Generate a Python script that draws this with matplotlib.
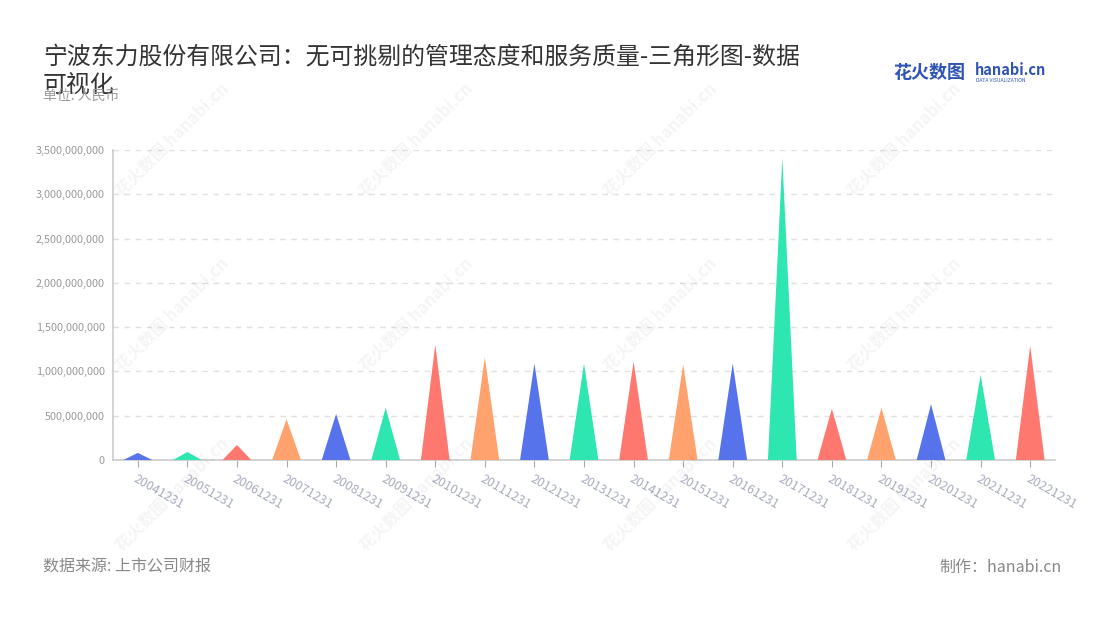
import matplotlib
matplotlib.use("Agg")
import matplotlib.pyplot as plt
from matplotlib.ticker import FuncFormatter

plt.rcParams['font.family'] = ['Noto Sans CJK SC', 'DejaVu Sans']

# --- Data ---
dates = ["20041231", "20051231", "20061231", "20071231", "20081231",
         "20091231", "20101231", "20111231", "20121231", "20131231",
         "20141231", "20151231", "20161231", "20171231", "20181231",
         "20191231", "20201231", "20211231", "20221231"]
values = [80e6, 90e6, 170e6, 460e6, 520e6,
          590e6, 1300e6, 1160e6, 1090e6, 1090e6,
          1110e6, 1080e6, 1090e6, 3410e6, 580e6,
          590e6, 630e6, 960e6, 1290e6]
palette = ['#5773ec', '#2ee6b0', '#ff7870', '#ffa26e']

TITLE = "宁波东力股份有限公司：无可挑剔的管理态度和服务质量-三角形图-数据\n可视化"

# --- Figure ---
fig = plt.figure(figsize=(11, 6.2), dpi=100)

# faint watermarks behind everything
for wx in [172, 416, 660, 904]:
    for wy in [140, 315, 495]:
        fig.text(wx / 1100, 1 - wy / 620, "花火数图 hanabi.cn", fontsize=12,
                 fontweight='bold', color='#000000', alpha=0.045,
                 rotation=45, ha='center', va='center', zorder=0)

ax = fig.add_axes([113 / 1100, 160 / 620, 942 / 1100, 310 / 620])
ax.patch.set_alpha(0)

half = 0.29
for i, v in enumerate(values):
    ax.fill([i - half, i, i + half], [0, v, 0],
            color=palette[i % len(palette)], linewidth=0, zorder=3)

ax.set_xlim(-0.5, len(dates) - 0.5)
ax.set_ylim(0, 3.5e9)
ax.set_yticks([i * 5e8 for i in range(8)])
ax.yaxis.set_major_formatter(FuncFormatter(lambda v, p: f"{int(v):,}"))
ax.grid(axis='y', color='#e0e0e0', linestyle=(0, (4, 4)), linewidth=1)
ax.set_axisbelow(True)

for side in ['top', 'right']:
    ax.spines[side].set_visible(False)
for side in ['left', 'bottom']:
    ax.spines[side].set_color('#cccccc')
    ax.spines[side].set_linewidth(1.2)

ax.tick_params(axis='y', length=0, labelsize=7.8, labelcolor='#999999', pad=6)
ax.tick_params(axis='x', length=5, color='#aaaaaa', labelsize=9,
               labelcolor='#a8adbd', pad=4)
ax.set_xticks(range(len(dates)))
ax.set_xticklabels(dates, rotation=-30, ha='left', rotation_mode='anchor')

# --- Texts ---
fig.text(43 / 1100, 1 - 71 / 620, TITLE, fontsize=17.2, color='#333333',
         va='center', linespacing=1.3)
fig.text(43 / 1100, 1 - 96 / 620, "单位: 人民币", fontsize=10,
         color='#999999', va='center')
fig.text(43 / 1100, 1 - 567 / 620, "数据来源: 上市公司财报", fontsize=11.5,
         color='#888888', va='center')
fig.text(1062 / 1100, 1 - 567 / 620, "制作：hanabi.cn", fontsize=11.5,
         color='#888888', va='center', ha='right')

# logo
fig.text(893 / 1100, 1 - 73 / 620, "花火数图", fontsize=13, color='#2f54b5',
         fontweight='bold', va='center')
fig.text(975 / 1100, 1 - 70 / 620, "hanabi.cn", fontsize=10.5, color='#2f54b5',
         fontweight='bold', va='center')
fig.text(976 / 1100, 1 - 80 / 620, "DATA VISUALIZATION", fontsize=3.6,
         color='#2f54b5', va='center')

fig.savefig("out.png", dpi=100)
